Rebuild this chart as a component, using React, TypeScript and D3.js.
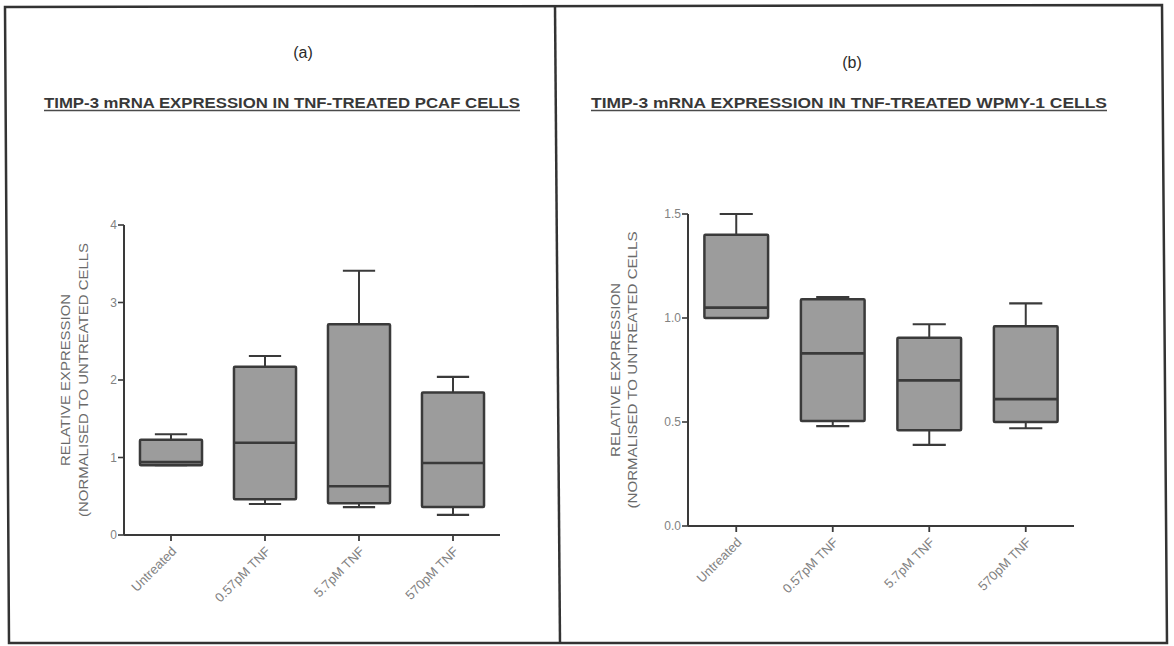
import React from "react";
import * as d3 from "d3";

// Treatment groups shared by both panels
const categories = ["Untreated", "0.57pM TNF", "5.7pM TNF", "570pM TNF"];

// (a) PCAF cells — box-plot summary (min, Q1, median, Q3, max)
const pcafMin = [0.9, 0.4, 0.36, 0.26];
const pcafQ1 = [0.9, 0.46, 0.41, 0.36];
const pcafMedian = [0.94, 1.19, 0.63, 0.93];
const pcafQ3 = [1.23, 2.17, 2.72, 1.84];
const pcafMax = [1.3, 2.31, 3.41, 2.04];
const pcafTicks = [0, 1, 2, 3, 4];
const pcafTickLabels = ["0", "1", "2", "3", "4"];

// (b) WPMY-1 cells
const wpmyMin = [1.0, 0.48, 0.39, 0.47];
const wpmyQ1 = [1.0, 0.505, 0.46, 0.5];
const wpmyMedian = [1.05, 0.83, 0.7, 0.61];
const wpmyQ3 = [1.4, 1.09, 0.905, 0.96];
const wpmyMax = [1.5, 1.1, 0.97, 1.07];
const wpmyTicks = [0, 0.5, 1.0, 1.5];
const wpmyTickLabels = ["0.0", "0.5", "1.0", "1.5"];

const yTitle1 = "RELATIVE EXPRESSION";
const yTitle2 = "(NORMALISED TO UNTREATED CELLS";

const FONT = "'Liberation Sans', Arial, sans-serif";
const INK = "#3a3a3a";
const SOFT = "#6a6a6a";
const LIGHT = "#828282";
const FILL = "#9c9c9c";

interface PanelSpec {
  letter: string;
  letterX: number;
  letterY: number;
  title: string;
  titleX0: number;
  titleX1: number;
  titleY: number;
  x0: number;
  x1: number;
  yBottom: number;
  yTop: number;
  yMax: number;
  ticks: number[];
  tickLabels: string[];
  mins: number[];
  q1s: number[];
  medians: number[];
  q3s: number[];
  maxes: number[];
  yTitleX1: number;
  yTitleX2: number;
  yTitleLen1: number;
  yTitleLen2: number;
}

const panels: PanelSpec[] = [
  {
    letter: "(a)",
    letterX: 303,
    letterY: 52,
    title: "TIMP-3 mRNA EXPRESSION IN TNF-TREATED PCAF CELLS",
    titleX0: 44,
    titleX1: 520,
    titleY: 108,
    x0: 124,
    x1: 500,
    yBottom: 535,
    yTop: 225,
    yMax: 4,
    ticks: pcafTicks,
    tickLabels: pcafTickLabels,
    mins: pcafMin,
    q1s: pcafQ1,
    medians: pcafMedian,
    q3s: pcafQ3,
    maxes: pcafMax,
    yTitleX1: 65,
    yTitleX2: 83,
    yTitleLen1: 172,
    yTitleLen2: 274,
  },
  {
    letter: "(b)",
    letterX: 852,
    letterY: 62,
    title: "TIMP-3 mRNA EXPRESSION IN TNF-TREATED WPMY-1 CELLS",
    titleX0: 591,
    titleX1: 1107,
    titleY: 108,
    x0: 688,
    x1: 1074,
    yBottom: 526,
    yTop: 214,
    yMax: 1.5,
    ticks: wpmyTicks,
    tickLabels: wpmyTickLabels,
    mins: wpmyMin,
    q1s: wpmyQ1,
    medians: wpmyMedian,
    q3s: wpmyQ3,
    maxes: wpmyMax,
    yTitleX1: 615,
    yTitleX2: 632,
    yTitleLen1: 174,
    yTitleLen2: 277,
  },
];

function Panel({ p }: { p: PanelSpec }) {
  const x = d3
    .scalePoint<string>()
    .domain(categories)
    .range([p.x0, p.x1])
    .padding(0.5);
  const y = d3.scaleLinear().domain([0, p.yMax]).range([p.yBottom, p.yTop]);
  const boxW = x.step() * 0.66;
  const capW = boxW * 0.52;
  const yMid = (p.yBottom + p.yTop) / 2;

  return (
    <g>
      <text
        x={p.letterX}
        y={p.letterY}
        textAnchor="middle"
        dominantBaseline="central"
        fontFamily={FONT}
        fontSize={16}
        fill="#2a2a2a"
      >
        {p.letter}
      </text>

      <text
        x={p.titleX0}
        y={p.titleY}
        fontFamily={FONT}
        fontSize={14}
        fontWeight="bold"
        fill="#383838"
        textLength={p.titleX1 - p.titleX0}
        lengthAdjust="spacingAndGlyphs"
      >
        {p.title}
      </text>
      <line
        x1={p.titleX0}
        x2={p.titleX1}
        y1={p.titleY + 2.5}
        y2={p.titleY + 2.5}
        stroke="#4a4a4a"
        strokeWidth={1.3}
      />

      {/* y-axis title */}
      <g fontFamily={FONT} fontSize={13} fill={SOFT}>
        <text
          transform={`translate(${p.yTitleX1},${yMid}) rotate(-90)`}
          textAnchor="middle"
          dominantBaseline="central"
          textLength={p.yTitleLen1}
          lengthAdjust="spacingAndGlyphs"
        >
          {yTitle1}
        </text>
        <text
          transform={`translate(${p.yTitleX2},${yMid}) rotate(-90)`}
          textAnchor="middle"
          dominantBaseline="central"
          textLength={p.yTitleLen2}
          lengthAdjust="spacingAndGlyphs"
        >
          {yTitle2}
        </text>
      </g>

      {/* y axis */}
      <line
        x1={p.x0}
        x2={p.x0}
        y1={y(0)}
        y2={y(p.yMax)}
        stroke={INK}
        strokeWidth={2}
      />
      {p.ticks.map((t, i) => (
        <g key={`yt${i}`}>
          <line
            x1={p.x0 - 6}
            x2={p.x0}
            y1={y(t)}
            y2={y(t)}
            stroke={INK}
            strokeWidth={1.6}
          />
          <text
            x={p.x0 - 7}
            y={y(t)}
            textAnchor="end"
            dominantBaseline="central"
            fontFamily={FONT}
            fontSize={12}
            fill={LIGHT}
          >
            {p.tickLabels[i]}
          </text>
        </g>
      ))}

      {/* x axis */}
      <line
        x1={p.x0}
        x2={p.x1}
        y1={y(0)}
        y2={y(0)}
        stroke={INK}
        strokeWidth={2}
      />
      {categories.map((c) => {
        const cx = x(c) as number;
        return (
          <g key={`xt${c}`}>
            <line
              x1={cx}
              x2={cx}
              y1={y(0)}
              y2={y(0) + 6}
              stroke={INK}
              strokeWidth={1.8}
            />
            <text
              transform={`translate(${cx + 3},${y(0) + 14}) rotate(-45)`}
              textAnchor="end"
              dominantBaseline="central"
              fontFamily={FONT}
              fontSize={13}
              fill={LIGHT}
            >
              {c}
            </text>
          </g>
        );
      })}

      {/* boxes */}
      {categories.map((c, i) => {
        const cx = x(c) as number;
        const yMaxV = y(p.maxes[i]);
        const yMinV = y(p.mins[i]);
        const yQ3 = y(p.q3s[i]);
        const yQ1 = y(p.q1s[i]);
        const yMed = y(p.medians[i]);
        return (
          <g key={`box${c}`} stroke={INK}>
            <line x1={cx} x2={cx} y1={yMaxV} y2={yQ3} strokeWidth={2} />
            <line x1={cx} x2={cx} y1={yQ1} y2={yMinV} strokeWidth={2} />
            <line
              x1={cx - capW / 2}
              x2={cx + capW / 2}
              y1={yMaxV}
              y2={yMaxV}
              strokeWidth={2.2}
            />
            <line
              x1={cx - capW / 2}
              x2={cx + capW / 2}
              y1={yMinV}
              y2={yMinV}
              strokeWidth={2.2}
            />
            <rect
              x={cx - boxW / 2}
              y={yQ3}
              width={boxW}
              height={yQ1 - yQ3}
              fill={FILL}
              strokeWidth={2.5}
              rx={1}
            />
            <line
              x1={cx - boxW / 2}
              x2={cx + boxW / 2}
              y1={yMed}
              y2={yMed}
              strokeWidth={2.6}
            />
          </g>
        );
      })}
    </g>
  );
}

export default function App() {
  return (
    <svg
      width={1174}
      height={646}
      viewBox="0 0 1174 646"
      style={{ position: "absolute", left: 0, top: 0, background: "#fff" }}
    >
      <rect x={0} y={0} width={1174} height={646} fill="#fff" />
      {/* outer frame and panel divider */}
      <path
        d="M5,7 L1162,5 L1167,643 L9,643 Z"
        fill="none"
        stroke="#333"
        strokeWidth={2.5}
      />
      <line x1={555} y1={6} x2={560} y2={643} stroke="#333" strokeWidth={2.5} />
      {panels.map((p) => (
        <Panel key={p.letter} p={p} />
      ))}
    </svg>
  );
}
